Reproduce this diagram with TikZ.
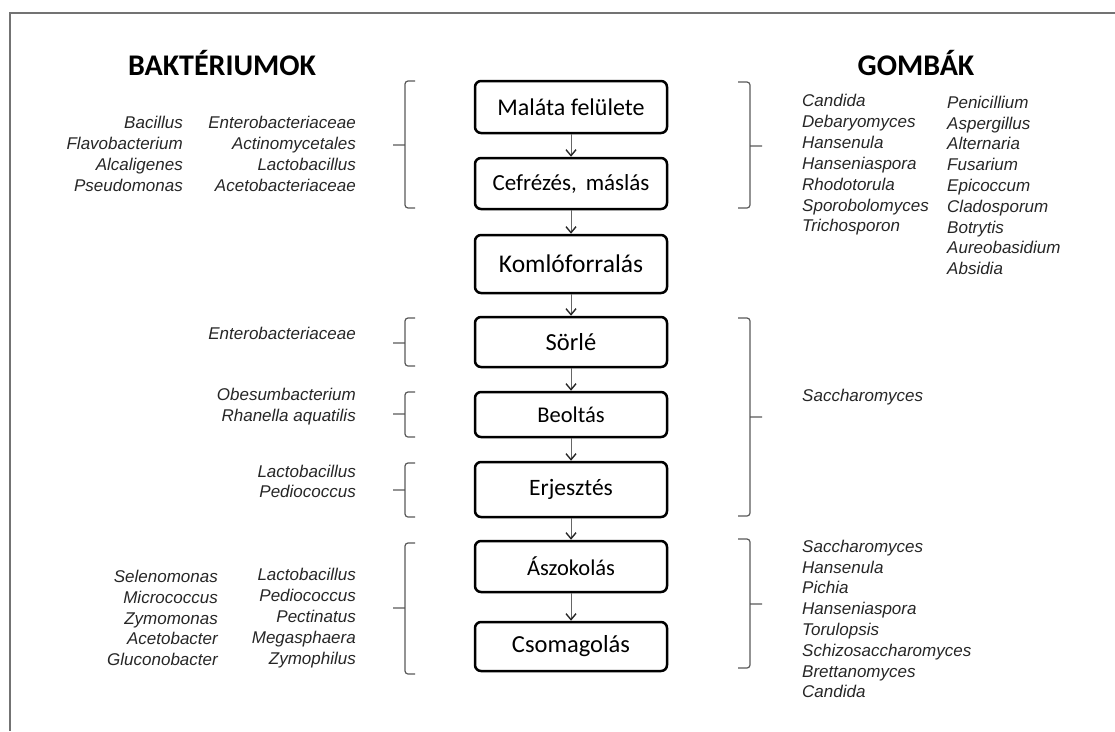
\documentclass[tikz,border=0pt]{standalone}
\usepackage{fontspec}
\setmainfont{Carlito}
\newfontfamily\taxafont{Liberation Sans}
\usetikzlibrary{arrows.meta}
\begin{document}
\begin{tikzpicture}[x=1pt,y=-1pt,
  stage/.style={draw, rounded corners=6pt, line width=2.5pt, minimum width=192pt, inner sep=0pt},
  taxa/.style={font=\taxafont\itshape\fontsize{17}{20.8}\selectfont, text=black!85, inner sep=0pt},
  grouptitle/.style={font=\bfseries\fontsize{30}{36}\selectfont},
  flow/.style={-{Straight Barb[length=6pt,width=10pt,line width=1.4pt,black!85]}, line width=1pt, draw=black!60},
  bracket/.style={draw=black!65, line width=1.2pt, rounded corners=3pt}]
\useasboundingbox (0,0) rectangle (1115,731);
\draw[black!55, line width=2pt] (1115,13) -- (10,13) -- (10,731);
% titles
\node[grouptitle] (bact) at (222,63) {BAKTÉRIUMOK};
\node[grouptitle] (gomb) at (916,63) {GOMBÁK};
% process steps
\node[stage, minimum height=52pt, font=\fontsize{24}{28}\selectfont] (malt) at (571,107) {Maláta felülete};
\node[stage, minimum height=51pt, font=\fontsize{23}{28}\selectfont] (mash) at (571,183.5) {Cefrézés,\ \,máslás};
\node[stage, minimum height=58pt, font=\fontsize{25.5}{30}\selectfont] (hops) at (571,264) {Komlóforralás};
\node[stage, minimum height=50pt, font=\fontsize{24.5}{28}\selectfont] (wort) at (571,342) {Sörlé};
\node[stage, minimum height=45pt, font=\fontsize{22.5}{28}\selectfont] (inoc) at (571,414.5) {Beoltás};
\node[stage, minimum height=55pt, font=\fontsize{23.5}{28}\selectfont] (ferm) at (571,489.5) {Erjesztés};
\node[stage, minimum height=51pt, font=\fontsize{22.5}{28}\selectfont] (lager) at (571,566.5) {Ászokolás};
\node[stage, minimum height=49pt, font=\fontsize{24.5}{28}\selectfont] (pack) at (571,646.5) {Csomagolás};
\draw[flow] (malt) -- (mash);
\draw[flow] (mash) -- (hops);
\draw[flow] (hops) -- (wort);
\draw[flow] (wort) -- (inoc);
\draw[flow] (inoc) -- (ferm);
\draw[flow] (ferm) -- (lager);
\draw[flow] (lager) -- (pack);
% brackets
\foreach \t/\b/\m in {81/208/145, 318/366/343, 392/437/414, 463/517/490, 543/674/608}
  \draw[bracket] (415,\t) -- (405,\t) -- (405,\b) -- (415,\b) (393,\m) -- (405,\m);
\foreach \t/\b/\m in {82/208/146, 318/516/417, 539/668/604}
  \draw[bracket] (738,\t) -- (750,\t) -- (750,\b) -- (738,\b) (750,\m) -- (762,\m);
% bacteria
\node[taxa, align=right, anchor=east] (bmaltA) at (183,154) {Bacillus\\Flavobacterium\\Alcaligenes\\Pseudomonas};
\node[taxa, align=right, anchor=east] (bmaltB) at (356,154) {Enterobacteriaceae\\Actinomycetales\\Lactobacillus\\Acetobacteriaceae};
\node[taxa, align=right, anchor=east] (bwort) at (356,333) {Enterobacteriaceae};
\node[taxa, align=right, anchor=east] (binoc) at (356,406.5) {Obesumbacterium\\Rhanella aquatilis};
\node[taxa, align=right, anchor=east] (bferm) at (356,481.5) {Lactobacillus\\Pediococcus};
\node[taxa, align=right, anchor=east] (blagerA) at (218,618) {Selenomonas\\Micrococcus\\Zymomonas\\Acetobacter\\Gluconobacter};
\node[taxa, align=right, anchor=east] (blagerB) at (356,618) {Lactobacillus\\Pediococcus\\Pectinatus\\Megasphaera\\Zymophilus};
% fungi
\node[taxa, align=left, anchor=west] (fmaltA) at (802,165) {Candida\\Debaryomyces\\Hansenula\\Hanseniaspora\\Rhodotorula\\Sporobolomyces\\Trichosporon};
\node[taxa, align=left, anchor=west] (fmaltB) at (947,185.5) {Penicillium\\Aspergillus\\Alternaria\\Fusarium\\Epicoccum\\Cladosporum\\Botrytis\\Aureobasidium\\Absidia};
\node[taxa, align=left, anchor=west] (fferm) at (802,397) {Saccharomyces};
\node[taxa, align=left, anchor=west] (flager) at (802,619) {Saccharomyces\\Hansenula\\Pichia\\Hanseniaspora\\Torulopsis\\Schizosaccharomyces\\Brettanomyces\\Candida};
\end{tikzpicture}
\end{document}
